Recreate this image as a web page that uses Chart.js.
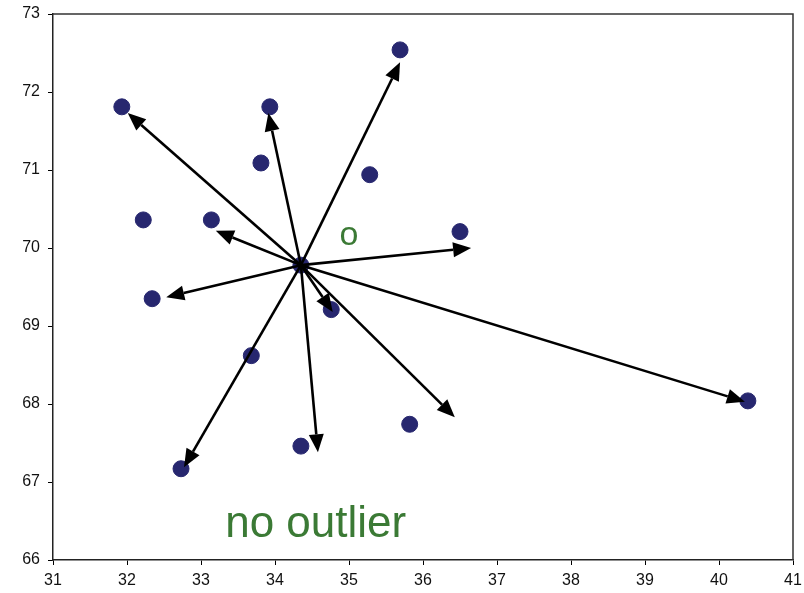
<!DOCTYPE html>
<html>
<head>
<meta charset="utf-8">
<script src="https://cdn.jsdelivr.net/npm/chart.js@4"></script>
<style>
  html, body { margin: 0; padding: 0; background: #fff; }
  #wrap { width: 804px; height: 593px; }
</style>
</head>
<body>
<div id="wrap"><canvas id="myChart"></canvas></div>
<script>
// data points
const xs = [31.93, 35.69, 33.93, 33.81, 35.28, 32.22, 33.14, 36.50, 32.34, 34.35, 34.76, 33.68, 35.82, 40.39, 34.35, 32.73];
const ys = [71.81, 72.54, 71.81, 71.09, 70.94, 70.36, 70.36, 70.21, 69.35, 69.78, 69.21, 68.62, 67.74, 68.04, 67.46, 67.17];

// arrows start at the centre point
const centreX = 34.35;
const centreY = 69.78;
const arrowX = [32.01, 35.69, 33.91, 33.20, 36.65, 32.53, 34.78, 32.77, 34.58, 36.43, 40.35];
const arrowY = [71.73, 72.38, 71.73, 70.22, 70.00, 69.37, 69.18, 67.19, 67.38, 67.83, 68.03];

// text labels
const labelText = ['o', 'no outlier'];
const labelX = [35.0, 34.55];
const labelY = [70.16, 66.45];
const labelSize = [34, 44];

const xTicks = [31, 32, 33, 34, 35, 36, 37, 38, 39, 40, 41];
const yTicks = [66, 67, 68, 69, 70, 71, 72, 73];

const points = xs.map((x, i) => ({ x: x, y: ys[i] }));

// draws the arrows, the box and the green text
const overlay = {
    id: 'overlay',
    afterDatasetsDraw(chart) {
        const ctx = chart.ctx;
        const sx = chart.scales.x, sy = chart.scales.y;
        const a = chart.chartArea;
        ctx.save();
        // top and right frame
        ctx.strokeStyle = '#333';
        ctx.lineWidth = 1.5;
        ctx.beginPath();
        ctx.moveTo(a.left, a.top);
        ctx.lineTo(a.right, a.top);
        ctx.lineTo(a.right, a.bottom);
        ctx.stroke();

        const x0 = sx.getPixelForValue(centreX), y0 = sy.getPixelForValue(centreY);
        ctx.strokeStyle = '#000';
        ctx.fillStyle = '#000';
        ctx.lineWidth = 2.6;
        arrowX.forEach((ax, i) => {
            const x1 = sx.getPixelForValue(ax), y1 = sy.getPixelForValue(arrowY[i]);
            const ang = Math.atan2(y1 - y0, x1 - x0);
            const len = 18, half = 7.5;
            const bx = x1 - len * Math.cos(ang), by = y1 - len * Math.sin(ang);
            ctx.beginPath();
            ctx.moveTo(x0, y0);
            ctx.lineTo(bx, by);
            ctx.stroke();
            ctx.beginPath();
            ctx.moveTo(x1, y1);
            ctx.lineTo(bx + half * Math.sin(ang), by - half * Math.cos(ang));
            ctx.lineTo(bx - half * Math.sin(ang), by + half * Math.cos(ang));
            ctx.closePath();
            ctx.fill();
        });

        ctx.fillStyle = '#3b7a35';
        ctx.textAlign = 'center';
        ctx.textBaseline = 'middle';
        labelText.forEach((t, i) => {
            ctx.font = labelSize[i] + 'px "Liberation Sans", Arial, sans-serif';
            ctx.fillText(t, sx.getPixelForValue(labelX[i]), sy.getPixelForValue(labelY[i]));
        });
        ctx.restore();
    }
};

const ctx = document.getElementById('myChart').getContext('2d');
const myChart = new Chart(ctx, {
    type: 'scatter',
    data: {
        datasets: [{
            data: points,
            backgroundColor: '#27276f',
            borderColor: '#27276f',
            pointRadius: 8,
            pointHoverRadius: 8
        }]
    },
    options: {
        responsive: true,
        maintainAspectRatio: false,
        animation: false,
        layout: { padding: { top: 14, right: 11, left: 0, bottom: 0 } },
        plugins: { legend: { display: false }, tooltip: { enabled: false } },
        scales: {
            x: {
                type: 'linear',
                min: 31, max: 41,
                afterBuildTicks: (s) => { s.ticks = xTicks.map(v => ({ value: v })); },
                afterFit: (s) => { s.height = 33; s.paddingRight = 0; s.paddingLeft = 0; },
                grid: { drawOnChartArea: false, drawTicks: true, tickLength: 5, color: '#000' },
                border: { display: true, color: '#222', width: 1.5 },
                ticks: { color: '#111', padding: 6, maxRotation: 0, font: { size: 16, family: '"Liberation Sans", Arial, sans-serif' } }
            },
            y: {
                type: 'linear',
                min: 66, max: 73,
                afterBuildTicks: (s) => { s.ticks = yTicks.map(v => ({ value: v })); },
                afterFit: (s) => { s.width = 53; s.paddingTop = 0; s.paddingBottom = 0; },
                grid: { drawOnChartArea: false, drawTicks: true, tickLength: 5, color: '#000' },
                border: { display: true, color: '#222', width: 1.5 },
                ticks: { color: '#111', padding: 8, font: { size: 16, family: '"Liberation Sans", Arial, sans-serif' } }
            }
        }
    },
    plugins: [overlay]
});
</script>
</body>
</html>
